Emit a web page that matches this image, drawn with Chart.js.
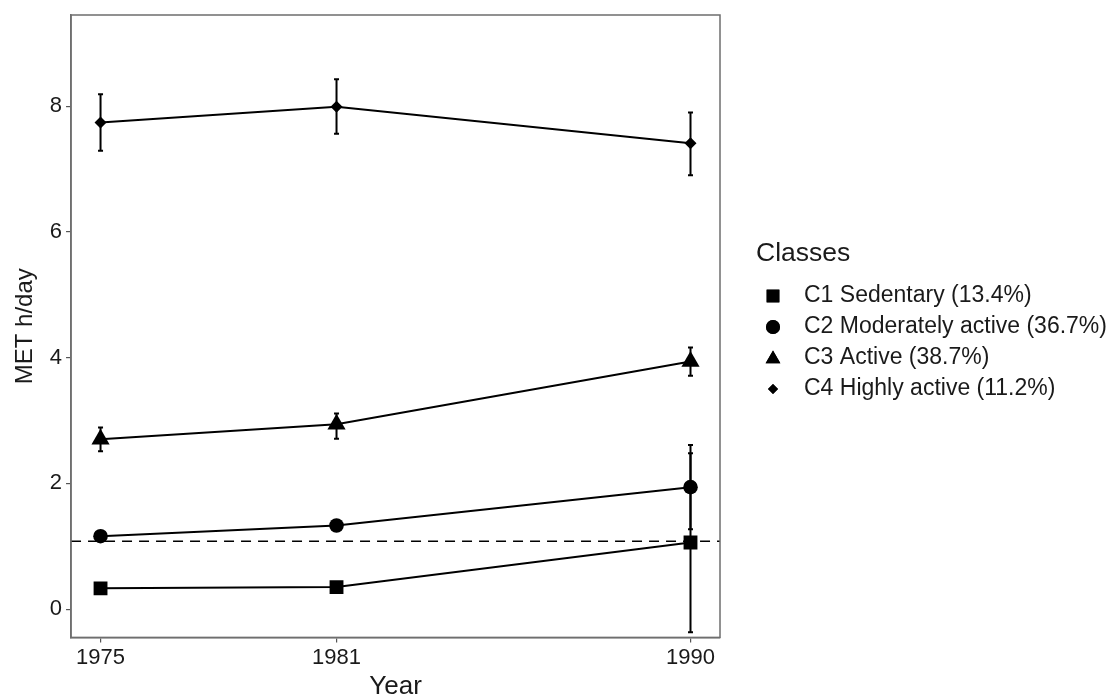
<!DOCTYPE html>
<html>
<head>
<meta charset="utf-8">
<script src="https://cdn.jsdelivr.net/npm/chart.js@4.4.1/dist/chart.umd.min.js"></script>
<style>
  html, body { margin: 0; padding: 0; background: #fff; }
  #wrap { width: 1118px; height: 698px; position: relative; }
</style>
</head>
<body>
<div id="wrap"><canvas id="myChart"></canvas></div>
<script>
// data
const years = [1975, 1981, 1990];
const classNames = ['C1 Sedentary (13.4%)', 'C2 Moderately active (36.7%)', 'C3 Active (38.7%)', 'C4 Highly active (11.2%)'];
const c1Mean = [0.33, 0.35, 1.06];
const c1Low = [0.29, 0.31, -0.37];
const c1High = [0.37, 0.39, 2.48];
const c2Mean = [1.16, 1.33, 1.94];
const c2Low = [1.09, 1.28, 1.27];
const c2High = [1.24, 1.39, 2.61];
const c3Mean = [2.70, 2.94, 3.94];
const c3Low = [2.51, 2.71, 3.71];
const c3High = [2.89, 3.11, 4.16];
const c4Mean = [7.74, 7.99, 7.41];
const c4Low = [7.29, 7.56, 6.90];
const c4High = [8.19, 8.43, 7.90];
const refLine = 1.08;
const yTicks = [0, 2, 4, 6, 8];
const xTicks = [1975, 1981, 1990];

const markers = ['rect', 'circle', 'triangle', 'rectRot'];
const markerSizes = [9.8, 7.3, 10.5, 6];
const means = [c1Mean, c2Mean, c3Mean, c4Mean];
const lows = [c1Low, c2Low, c3Low, c4Low];
const highs = [c1High, c2High, c3High, c4High];

const FONT = '"Liberation Sans", Arial, sans-serif';

const datasets = means.map((m, i) => ({
  label: classNames[i],
  data: years.map((y, j) => ({ x: y, y: m[j] })),
  borderColor: '#000',
  backgroundColor: '#000',
  borderWidth: 2,
  pointStyle: markers[i],
  pointRadius: markerSizes[i],
  pointBorderWidth: 0,
  pointBackgroundColor: '#000',
  tension: 0
}));

datasets.push({
  label: 'ref',
  data: [{ x: 1974.25, y: refLine }, { x: 1990.75, y: refLine }],
  borderColor: '#000',
  borderWidth: 1.5,
  borderDash: [10, 7],
  pointRadius: 0
});

// error bars, frame and legend
const extras = {
  id: 'extras',
  beforeDatasetsDraw(chart) {
    const ctx = chart.ctx;
    const xs = chart.scales.x, ys = chart.scales.y;
    ctx.save();
    ctx.strokeStyle = '#000';
    ctx.lineWidth = 2;
    for (let i = 0; i < means.length; i++) {
      for (let j = 0; j < years.length; j++) {
        const px = xs.getPixelForValue(years[j]);
        const pl = ys.getPixelForValue(lows[i][j]);
        const ph = ys.getPixelForValue(highs[i][j]);
        ctx.beginPath();
        ctx.moveTo(px, pl); ctx.lineTo(px, ph);
        ctx.moveTo(px - 2.5, pl); ctx.lineTo(px + 2.5, pl);
        ctx.moveTo(px - 2.5, ph); ctx.lineTo(px + 2.5, ph);
        ctx.stroke();
      }
    }
    ctx.restore();
  },
  afterDraw(chart) {
    const ctx = chart.ctx;
    const a = chart.chartArea;
    ctx.save();
    ctx.strokeStyle = '#6e6e6e';
    ctx.lineWidth = 1.5;
    ctx.strokeRect(a.left, a.top, a.right - a.left, a.bottom - a.top);

    // legend
    ctx.fillStyle = '#1a1a1a';
    ctx.font = '26.5px ' + FONT;
    ctx.textBaseline = 'middle';
    ctx.fillText('Classes', 756, 254);
    ctx.font = '23px ' + FONT;
    const legSizes = [9, 7, 8.5, 5];
    for (let i = 0; i < classNames.length; i++) {
      const y = 296 + i * 31;
      ctx.fillStyle = '#000';
      Chart.helpers.drawPoint(ctx, { pointStyle: markers[i], radius: legSizes[i], rotation: 0, borderWidth: 0 }, 773, i == 2 ? y + 1 : y);
      ctx.fill();
      ctx.fillStyle = '#1a1a1a';
      ctx.fillText(classNames[i], 804, y);
    }
    ctx.restore();
  }
};

const tickFont = { family: FONT, size: 22 };

const config = {
  type: 'line',
  data: { datasets: datasets },
  options: {
    responsive: true,
    maintainAspectRatio: false,
    animation: false,
    layout: { padding: { left: 11, right: 398, top: 15, bottom: 0 } },
    plugins: {
      legend: { display: false },
      tooltip: { enabled: false }
    },
    scales: {
      x: {
        type: 'linear',
        min: 1974.25,
        max: 1990.75,
        afterBuildTicks: axis => { axis.ticks = xTicks.map(v => ({ value: v })); },
        ticks: { font: tickFont, color: '#1a1a1a', padding: 2, callback: v => String(v) },
        grid: { drawOnChartArea: false, drawTicks: true, tickLength: 5, color: '#555', lineWidth: 1.2 },
        border: { display: true, color: '#6e6e6e', width: 1.5 },
        title: { display: true, text: 'Year', color: '#1a1a1a', font: { family: FONT, size: 26 }, padding: { top: -2, bottom: -4 } }
      },
      y: {
        type: 'linear',
        min: -0.45,
        max: 9.45,
        afterBuildTicks: axis => { axis.ticks = yTicks.map(v => ({ value: v })); },
        afterFit: axis => { axis.paddingTop = 0; axis.paddingBottom = 0; },
        ticks: { font: tickFont, color: '#1a1a1a', padding: 4 },
        grid: { drawOnChartArea: false, drawTicks: true, tickLength: 5, color: '#555', lineWidth: 1.2 },
        border: { display: true, color: '#6e6e6e', width: 1.5 },
        title: { display: true, text: 'MET h/day', color: '#1a1a1a', font: { family: FONT, size: 24 }, padding: { top: 0, bottom: 6 } }
      }
    }
  },
  plugins: [extras]
};

const myChart = new Chart(document.getElementById('myChart'), config);
</script>
</body>
</html>
